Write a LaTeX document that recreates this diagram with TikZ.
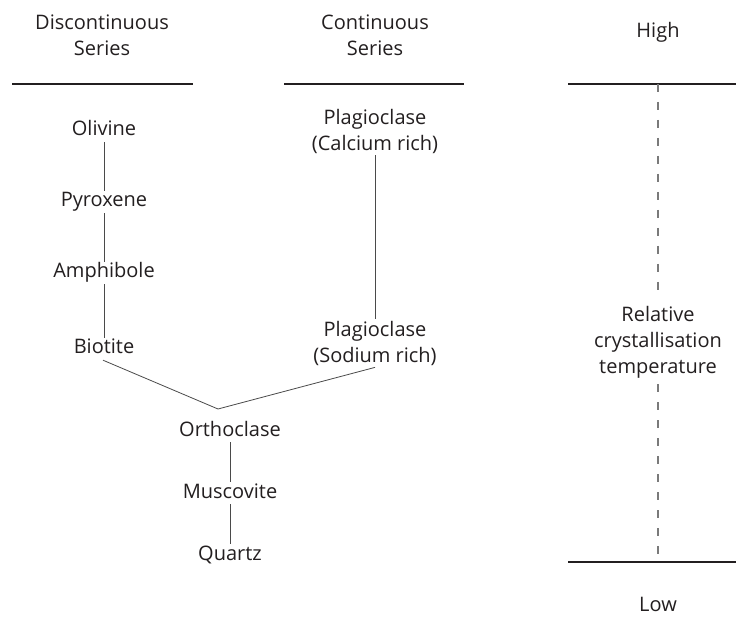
\documentclass[tikz,border=0pt]{standalone}
\usepackage{fontspec}
\setmainfont{Open Sans}
\definecolor{ink}{HTML}{231F20}
\definecolor{link}{HTML}{4A4A4A}
\definecolor{guidegray}{HTML}{7A7A7A}

\begin{document}
\begin{tikzpicture}[x=1pt,y=-1pt,
  text=ink,
  label/.style={font=\fontsize{20}{26}\selectfont,align=center,inner sep=2pt},
  mineral/.style={label,text height=14pt,text depth=4pt},
  rule/.style={draw=ink,line width=1.4pt},
  link/.style={draw=link,line width=.8pt},
  guide/.style={draw=guidegray,line width=1.2pt,dash pattern=on 8pt off 10pt}
]
  \useasboundingbox[fill=white] (0,0) rectangle (736,617);

  % column heads
  \node[label] (disc) at (102,35) {Discontinuous\\Series};
  \node[label] (cont) at (375,35) {Continuous\\Series};
  \node[label] (high) at (658,32) {High};
  \node[label] (low) at (658,604) {Low};

  \coordinate (d1) at (12,84);  \coordinate (d2) at (193,84);
  \coordinate (c1) at (284,84); \coordinate (c2) at (464,84);
  \coordinate (t1) at (568,84); \coordinate (t2) at (736,84);
  \coordinate (b1) at (568,562); \coordinate (b2) at (736,562);
  \coordinate (ttop) at (658,84); \coordinate (tbot) at (658,562);
  \foreach \a/\b in {d1/d2,c1/c2,t1/t2,b1/b2}
    \draw[rule] (\a) -- (\b);

  % discontinuous series
  \node[mineral] (olivine) at (104,131) {Olivine};
  \node[mineral] (pyroxene) at (104,202) {Pyroxene};
  \node[mineral] (amphibole) at (104,273) {Amphibole};
  \node[mineral] (biotite) at (104,349) {Biotite};

  % continuous series
  \node[label] (plagca) at (375,131) {Plagioclase\\(Calcium rich)};
  \node[label] (plagna) at (375,343) {Plagioclase\\(Sodium rich)};

  % common tail
  \node[mineral] (orthoclase) at (230,431) {Orthoclase};
  \node[mineral] (muscovite) at (230,493) {Muscovite};
  \node[mineral] (quartz) at (230,555) {Quartz};
  \coordinate (join) at (218,409);

  \foreach \a/\b in {olivine/pyroxene,pyroxene/amphibole,amphibole/biotite,
    plagca/plagna,orthoclase/muscovite,muscovite/quartz}
    \draw[link] (\a.south) -- (\b.north);
  \draw[link] ([xshift=-1pt]biotite.south) -- (join) -- (plagna.south);

  % temperature scale
  \node[label,inner sep=6pt] (temp) at (658,342)
    {Relative\\crystallisation\\temperature};
  \draw[guide] (ttop) -- (temp.north);
  \draw[guide] (temp.south) -- (tbot);
\end{tikzpicture}
\end{document}
